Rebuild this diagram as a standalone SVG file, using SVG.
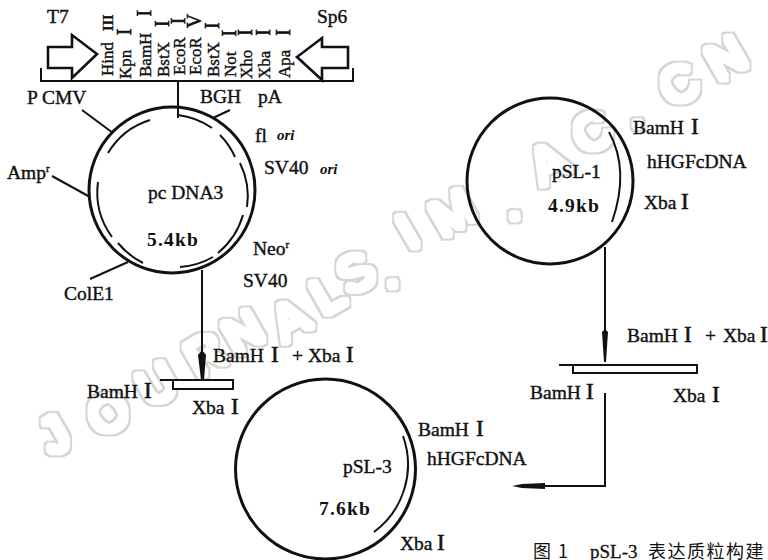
<svg xmlns="http://www.w3.org/2000/svg" width="768" height="560" viewBox="0 0 768 560">
<style>
text{font-family:"Liberation Serif","Noto Sans CJK SC",serif;font-size:19.5px;fill:#111;stroke:#111;stroke-width:.4}
.n{font-size:23px;stroke-width:.6}
.v{font-size:17px}
.v .n{font-size:20px}
.k{font-weight:bold;stroke:none;letter-spacing:1.2px}
.i{font-style:italic;font-size:15px;font-weight:bold;stroke:none}
.r{font-size:11px}
.wm{font-family:"Liberation Sans",sans-serif;font-size:50px;font-weight:normal;fill:#000;stroke:none;filter:url(#wmf)}
.cap{font-family:"Noto Sans CJK SC","Liberation Serif",serif;font-size:18px;stroke:none;letter-spacing:1.5px}
.cap2{font-size:19px;stroke-width:.3}
.ring{fill:none;stroke:#111;stroke-width:3}
.ln{fill:none;stroke:#111;stroke-width:2}
.box{fill:#fff;stroke:#111;stroke-width:2}
.hd{fill:#111}
</style>
<defs>
<filter id="wmf" x="-5%" y="-5%" width="110%" height="110%" color-interpolation-filters="sRGB">
<feMorphology in="SourceAlpha" operator="dilate" radius="5" result="o"/>
<feFlood flood-color="#d6d6d6"/><feComposite in2="o" operator="in" result="og"/>
<feMorphology in="SourceAlpha" operator="dilate" radius="3.4" result="w"/>
<feFlood flood-color="#ffffff"/><feComposite in2="w" operator="in" result="wg"/>
<feMerge><feMergeNode in="og"/><feMergeNode in="wg"/></feMerge>
</filter>
</defs>
<rect width="768" height="560" fill="#fff"/>
<g id="watermark">
<text class="wm" x="52 100 150 198 236 284 324 350 388 410 443 510 542 585 633 672 719" y="456 438 408 378 356 343 316 296 290 250 238 222 186 156 130 108 82" rotate="-30">JOURNALS.IM.AC.CN</text>
</g>
<g id="connectors">
<path class="ln" d="M178 82V118"/>
<path class="ln" d="M82 110L113 133"/>
<path class="ln" d="M52 176L90 197"/>
<path class="ln" d="M90 279L128 262"/>
<path class="ln" d="M230 110L213 118"/>
<path class="ln" d="M202 270V380"/>
<path class="hd" d="M198 355L202 350L206 355L204 380H201Z"/>
<path class="ln" d="M605 247V362"/>
<path class="hd" d="M602 332L605 329L608 332L606 362H604Z"/>
<path class="ln" d="M605 393V486H530"/>
<path class="hd" d="M512 486L522 484L545 483V489L522 488Z"/>
</g>
<g id="mcs">
<path class="ln" d="M41 68V81H353V68"/>
<path fill="#fff" stroke="#111" stroke-width="2.6" d="M48 47H72V35L97 54L72 78V68H48Z"/>
<path fill="#fff" stroke="#111" stroke-width="2.6" d="M348 47H322V38L297 57L322 80V68H348Z"/>
<text x="47" y="23">T7</text>
<text x="317" y="23">Sp6</text>
<g>
<text class="v" transform="translate(113 76) rotate(-90)">Hind<tspan dx="11" style="font-size:14px;font-weight:bold">III</tspan></text>
<text class="v" transform="translate(131 79) rotate(-90)">Kpn<tspan dx="14.5" class="n">I</tspan></text>
<text class="v" transform="translate(151 77) rotate(-90)">BamH<tspan dx="16" class="n">I</tspan></text>
<text class="v" transform="translate(169 77) rotate(-90)">BstX<tspan dx="15" class="n">I</tspan></text>
<text class="v" transform="translate(185 75) rotate(-90)">EcoR<tspan dx="13" class="n">I</tspan></text>
<text class="v" transform="translate(201 75) rotate(-90)">EcoR<tspan dx="9" class="n">V</tspan></text>
<text class="v" transform="translate(219 77) rotate(-90)">BstX<tspan dx="13" class="n">I</tspan></text>
<text class="v" transform="translate(236 77) rotate(-90)">Not<tspan dx="15" class="n">I</tspan></text>
<text class="v" transform="translate(252 79) rotate(-90)">Xho<tspan dx="14" class="n">I</tspan></text>
<text class="v" transform="translate(270 79) rotate(-90)">Xba<tspan dx="15" class="n">I</tspan></text>
<text class="v" transform="translate(290 78) rotate(-90)">Apa<tspan dx="14" class="n">I</tspan></text>
</g>
</g>
<g id="pcDNA3">
<circle class="ring" cx="172" cy="190" r="83"/>
<path class="ln" d="M108 153A75 75 0 0 1 150 120"/>
<path class="ln" d="M178 115A75 75 0 0 1 212 128"/>
<path class="ln" d="M220 135A75 75 0 0 1 235 157"/>
<path class="ln" d="M240 163A75 75 0 0 1 247 207"/>
<path class="ln" d="M243 215A77 77 0 0 1 218 253"/>
<path class="ln" d="M213 257A77 77 0 0 1 180 267"/>
<path class="ln" d="M143 263A77 77 0 0 1 118 243"/>
<path class="ln" d="M112 237A76 76 0 0 1 98 182"/>
<text x="27" y="104">P CMV</text>
<text x="200" y="103">BGH</text>
<text x="258" y="103">pA</text>
<text x="255" y="142">fl</text>
<text class="i" x="277" y="140">ori</text>
<text x="264" y="174">SV40</text>
<text class="i" x="320" y="174">ori</text>
<text x="7" y="179">Amp<tspan class="r" dy="-7">r</tspan></text>
<text x="148" y="199">pc DNA3</text>
<text class="k" x="147" y="246">5.4kb</text>
<text x="253" y="255">Neo<tspan class="r" dy="-7">r</tspan></text>
<text x="243" y="287">SV40</text>
<text x="64" y="300">ColE1</text>
</g>
<g id="insert-left">
<path class="box" d="M173 380H233V389H173Z"/>
<path class="ln" d="M160 380H233"/>
<text x="213" y="362">BamH <tspan class="n" x="271">I</tspan></text>
<text x="292" y="362">+ <tspan x="308">Xba</tspan> <tspan class="n" x="346">I</tspan></text>
<text x="87" y="398">BamH <tspan class="n" x="144">I</tspan></text>
<text x="192" y="414">Xba <tspan class="n" x="231">I</tspan></text>
</g>
<g id="pSL-1">
<circle class="ring" cx="550" cy="181" r="83"/>
<path class="ln" d="M609 132Q630 170 612 222"/>
<text x="552" y="178">pSL-1</text>
<text class="k" x="548" y="212">4.9kb</text>
<text x="633" y="134">BamH <tspan class="n" x="691">I</tspan></text>
<text x="647" y="168">hHGFcDNA</text>
<text x="644" y="209">Xba <tspan class="n" x="681">I</tspan></text>
</g>
<g id="insert-right">
<path class="box" d="M573 365H697V373H573Z"/>
<path class="ln" d="M559 365H697"/>
<text x="627" y="342">BamH <tspan class="n" x="684">I</tspan></text>
<text x="705" y="342">+ <tspan x="723">Xba</tspan> <tspan class="n" x="760">I</tspan></text>
<text x="530" y="399">BamH <tspan class="n" x="586">I</tspan></text>
<text x="673" y="402">Xba <tspan class="n" x="712">I</tspan></text>
</g>
<g id="pSL-3">
<circle class="ring" cx="325.5" cy="469" r="90"/>
<path class="ln" d="M403 436A84 84 0 0 1 374 532"/>
<text x="343" y="473">pSL-3</text>
<text class="k" x="319" y="515">7.6kb</text>
<text x="418" y="436">BamH <tspan class="n" x="476">I</tspan></text>
<text x="427" y="465">hHGFcDNA</text>
<text x="400" y="550">Xba <tspan class="n" x="437">I</tspan></text>
</g>
<g id="caption">
<text class="cap" x="533" y="558">图 1</text>
<text class="cap2" x="590" y="558">pSL-3</text>
<text class="cap" x="648" y="558">表达质粒构建</text>
</g>
</svg>
